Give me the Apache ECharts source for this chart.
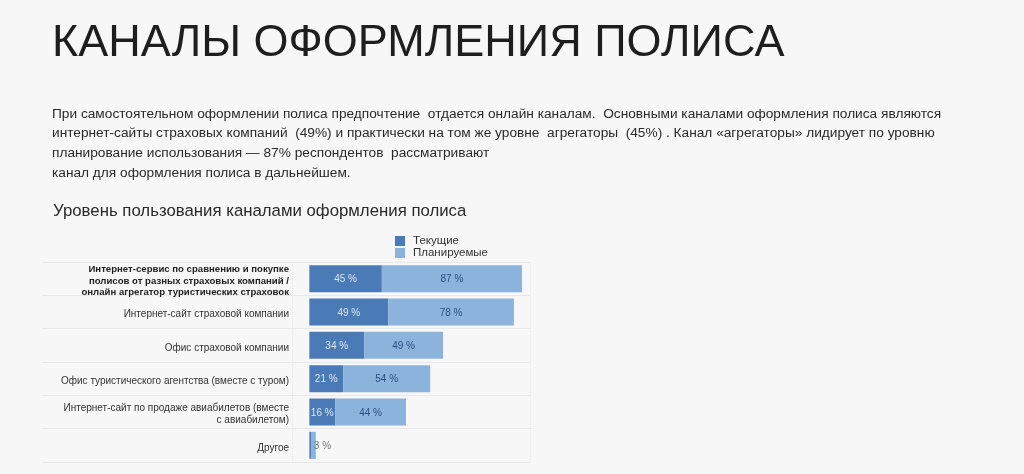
<!DOCTYPE html>
<html><head><meta charset="utf-8">
<script src="https://cdn.jsdelivr.net/npm/echarts@6/dist/echarts.min.js"></script>
<style>html,body{margin:0;padding:0;background:#f7f7f7;}#c{width:1024px;height:474px;}</style>
</head><body><div id="c"></div>
<script>
const title = 'КАНАЛЫ ОФОРМЛЕНИЯ ПОЛИСА';
const paragraph = [
  'При самостоятельном оформлении полиса предпочтение  отдается онлайн каналам.  Основными каналами оформления полиса являются',
  'интернет-сайты страховых компаний  (49%) и практически на том же уровне  агрегаторы  (45%) . Канал «агрегаторы» лидирует по уровню',
  'планирование использования — 87% респондентов  рассматривают',
  'канал для оформления полиса в дальнейшем.'
];
const subtitle = 'Уровень пользования каналами оформления полиса';
const categories = [
  'Интернет-сервис по сравнению и покупке\nполисов от разных страховых компаний /\nонлайн агрегатор туристических страховок',
  'Интернет-сайт страховой компании',
  'Офис страховой компании',
  'Офис туристического агентства (вместе с туром)',
  'Интернет-сайт по продаже авиабилетов (вместе\nс авиабилетом)',
  'Другое'
];
const seriesNames = ['Текущие', 'Планируемые'];
const current = [45, 49, 34, 21, 16, 1];
const planned = [87, 78, 49, 54, 44, 3];

const DARK = '#4b7bb6';
const LIGHT = '#8cb3dc';
const font = '"Liberation Sans", Arial, sans-serif';

const chart = echarts.init(document.getElementById('c'), null, {renderer: 'canvas'});
chart.setOption({
  backgroundColor: '#f7f7f7',
  animation: false,
  textStyle: {fontFamily: font},
  title: [
    {text: title, left: 52, top: 21, padding: 0, textStyle: {fontFamily: font, fontSize: 45, fontWeight: 'normal', color: '#1e1e1e'}},
    {text: paragraph.join('\n'), left: 52, top: 104, padding: 0, textStyle: {fontFamily: font, fontSize: 13.7, fontWeight: 'normal', color: '#2a2a2a', lineHeight: 19.7}},
    {text: subtitle, left: 53, top: 203, padding: 0, textStyle: {fontFamily: font, fontSize: 16.8, fontWeight: 'normal', color: '#2a2a2a'}}
  ],
  legend: {
    orient: 'vertical', left: 395, top: 235, padding: 0, itemWidth: 10, itemHeight: 10, itemGap: 0,
    icon: 'rect', data: seriesNames,
    textStyle: {fontFamily: font, fontSize: 11.5, color: '#333', padding: [0, 0, 0, 3]}
  },
  grid: {left: 42, right: 494, top: 262, bottom: 12, containLabel: false, outerBoundsMode: 'none'},
  xAxis: {type: 'value', min: -166, max: 137, show: false},
  yAxis: {
    type: 'category', inverse: true, data: categories, offset: -268,
    axisLine: {show: false}, axisTick: {show: false},
    splitLine: {show: true, lineStyle: {color: '#e9e9e9', width: 1}},
    axisLabel: {
      margin: 21, fontFamily: font, fontSize: 10, color: '#333', lineHeight: 11.6, padding: [5, 0, 0, 0],
      formatter: function (v, i) { return i === 0 ? '{b|' + v.split('\n').join('}\n{b|') + '}' : v; },
      rich: {b: {fontWeight: 'bold', fontSize: 9.6, color: '#222', lineHeight: 11.6, fontFamily: font}}
    }
  },
  series: [
    {
      name: seriesNames[0], type: 'bar', stack: 'all', barWidth: 27,
      itemStyle: {color: DARK},
      data: current.map(function (v, i) {
        return {value: v, label: {show: i < 5}};
      }),
      label: {show: true, position: 'inside', offset: [0, 1], formatter: '{c} %', fontSize: 10, color: '#dbe6f3', fontFamily: font},
      markLine: {
        silent: true, symbol: 'none', label: {show: false},
        lineStyle: {color: '#e8e8e8', type: 'dotted', width: 1},
        data: [{xAxis: -10.5}, {xAxis: 137}]
      }
    },
    {
      name: seriesNames[1], type: 'bar', stack: 'all', barWidth: 27,
      itemStyle: {color: LIGHT},
      data: planned.map(function (v, i) {
        return i === 5 ? {value: v, label: {position: 'right', distance: -2, color: '#777'}} : {value: v};
      }),
      label: {show: true, position: 'inside', offset: [0, 1], formatter: '{c} %', fontSize: 10, color: '#2b4f82', fontFamily: font}
    }
  ]
});
</script></body></html>
